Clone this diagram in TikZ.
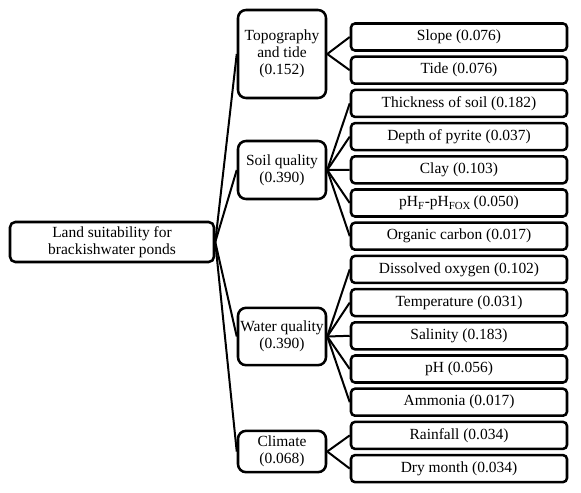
\documentclass[tikz,border=0pt]{standalone}
\usepackage{fontspec}
\setmainfont{Liberation Serif}
\usepackage{tikz}

\tikzset{
  rootbox/.style={draw, line width=1.9pt, rounded corners=4pt, align=center,
    minimum width=153pt, minimum height=30pt, inner sep=1pt},
  groupbox/.style={draw, line width=1.9pt, rounded corners=6pt, align=center,
    minimum width=66pt, inner sep=1pt},
  leafbox/.style={draw, line width=1.9pt, rounded corners=3pt,
    minimum width=162pt, minimum height=20.25pt, inner sep=1pt},
  link/.style={line width=1.5pt}
}

\begin{document}
\begin{tikzpicture}[x=0.75pt,y=-0.75pt,font=\fontsize{11.6}{12.8}\selectfont]

 \useasboundingbox (0,0) rectangle (581,492);

 \node[rootbox] (land) at (112,242) {Land suitability for\\brackishwater ponds};

 % criteria
 \node[groupbox, minimum height=66pt] (topo) at (282,54) {Topography\\and tide\\(0.152)};
 \node[groupbox, minimum height=43.5pt] (soil) at (282,170) {Soil quality\\(0.390)};
 \node[groupbox, minimum height=43pt] (water) at (282,336.5) {Water quality\\(0.390)};
 \node[groupbox, minimum height=31pt] (climate) at (282,451.5) {Climate\\(0.068)};

 % sub-criteria
 \node[leafbox] (slope) at (459,37) {Slope (0.076)};
 \node[leafbox] (tide) at (459,70.2) {Tide (0.076)};
 \node[leafbox] (thick) at (459,103.4) {Thickness of soil (0.182)};
 \node[leafbox] (pyrite) at (459,136.6) {Depth of pyrite (0.037)};
 \node[leafbox] (clay) at (459,169.8) {Clay (0.103)};
 \node[leafbox] (phfox) at (459,203) {pH\textsubscript{F}-pH\textsubscript{FOX}\,(0.050)};
 \node[leafbox] (organic) at (459,236.2) {Organic carbon (0.017)};
 \node[leafbox] (oxygen) at (459,269.4) {Dissolved oxygen (0.102)};
 \node[leafbox] (temp) at (459,302.6) {Temperature (0.031)};
 \node[leafbox] (salinity) at (459,335.8) {Salinity (0.183)};
 \node[leafbox] (ph) at (459,369) {pH (0.056)};
 \node[leafbox] (ammonia) at (459,402.2) {Ammonia (0.017)};
 \node[leafbox] (rain) at (459,435.4) {Rainfall (0.034)};
 \node[leafbox] (dry) at (459,468.6) {Dry month (0.034)};

 % root to criteria
 \draw[link] (land.east) -- (topo.west);
 \draw[link] (land.east) -- (soil.west);
 \draw[link] (land.east) -- (water.west);
 \draw[link] (land.east) -- (climate.west);

 % criteria to sub-criteria
 \draw[link] (topo.east) -- (slope.west);
 \draw[link] (topo.east) -- (tide.west);
 \draw[link] (soil.east) -- (thick.west);
 \draw[link] (soil.east) -- (pyrite.west);
 \draw[link] (soil.east) -- (clay.west);
 \draw[link] (soil.east) -- (phfox.west);
 \draw[link] (soil.east) -- (organic.west);
 \draw[link] (water.east) -- (oxygen.west);
 \draw[link] (water.east) -- (temp.west);
 \draw[link] (water.east) -- (salinity.west);
 \draw[link] (water.east) -- (ph.west);
 \draw[link] (water.east) -- (ammonia.west);
 \draw[link] (climate.east) -- (rain.west);
 \draw[link] (climate.east) -- (dry.west);

\end{tikzpicture}
\end{document}
